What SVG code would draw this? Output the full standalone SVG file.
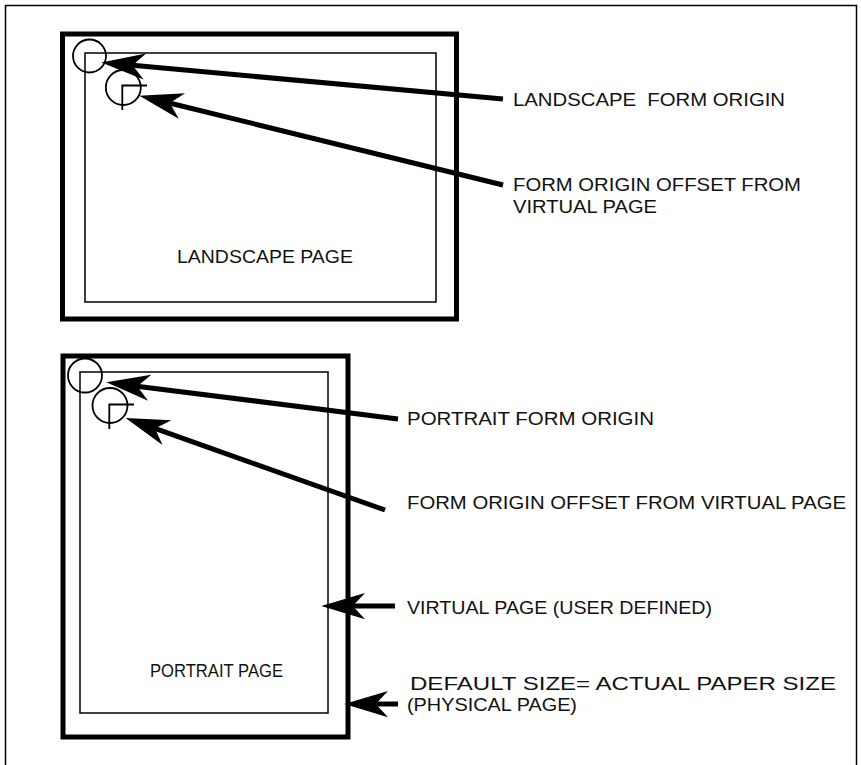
<svg xmlns="http://www.w3.org/2000/svg" width="861" height="765" viewBox="0 0 861 765">
<defs>
<style>
.frame{fill:none;stroke:#000;stroke-width:1.5}
.thick{fill:none;stroke:#000;stroke-width:5}
.thin{fill:none;stroke:#000;stroke-width:1.5}
.mark{fill:none;stroke:#000;stroke-width:1.8}
.shaft{fill:none;stroke:#000;stroke-width:5;marker-end:url(#head)}
text{font-family:"Liberation Sans",Arial,sans-serif;font-size:18px;fill:#111}
</style>
<marker id="head" markerUnits="userSpaceOnUse" orient="auto" refX="0" refY="0" markerWidth="50" markerHeight="30" viewBox="-14 -12 40 24" overflow="visible">
<path d="M23,0 L-12,-10.5 Q-5,-3 -2,0 Q-5,3 -12,10.5 Z" fill="#000"/>
</marker>
</defs>
<rect class="frame" x="5.5" y="5.5" width="851" height="800"/>
<g id="landscape-page">
<rect class="thick" x="62.5" y="34" width="394" height="285"/>
<rect class="thin" x="85" y="53" width="351" height="249"/>
<text x="177" y="263" textLength="176" lengthAdjust="spacingAndGlyphs">LANDSCAPE PAGE</text>
</g>
<g id="landscape-origin">
<circle class="mark" cx="89.5" cy="56" r="16.5"/>
</g>
<g id="landscape-offset">
<circle class="mark" cx="123.3" cy="87.5" r="17.5"/>
<path class="mark" d="M147,85.5 H122.3 V110"/>
</g>
<g id="portrait-page">
<rect class="thick" x="63" y="356" width="285" height="381"/>
<rect class="thin" x="80" y="372" width="248" height="341"/>
<text x="150" y="677" textLength="133" lengthAdjust="spacingAndGlyphs">PORTRAIT PAGE</text>
</g>
<g id="portrait-origin">
<circle class="mark" cx="85" cy="375.5" r="17"/>
</g>
<g id="portrait-offset">
<circle class="mark" cx="110" cy="405.5" r="17.5"/>
<path class="mark" d="M134,404.5 H109.3 V429"/>
</g>
<g id="label-landscape-origin">
<text x="513" y="106" textLength="272" lengthAdjust="spacingAndGlyphs">LANDSCAPE&#160; FORM ORIGIN</text>
</g>
<g id="label-landscape-offset">
<text x="513" y="191" textLength="288" lengthAdjust="spacingAndGlyphs">FORM ORIGIN OFFSET FROM</text>
<text x="513" y="213" textLength="144" lengthAdjust="spacingAndGlyphs">VIRTUAL PAGE</text>
</g>
<g id="label-portrait-origin">
<text x="407" y="425" textLength="247" lengthAdjust="spacingAndGlyphs">PORTRAIT FORM ORIGIN</text>
</g>
<g id="label-portrait-offset">
<text x="407" y="509" textLength="439" lengthAdjust="spacingAndGlyphs">FORM ORIGIN OFFSET FROM VIRTUAL PAGE</text>
</g>
<g id="label-virtual-page">
<text x="407" y="614" textLength="305" lengthAdjust="spacingAndGlyphs">VIRTUAL PAGE (USER DEFINED)</text>
</g>
<g id="label-default-size">
<text x="410" y="690" textLength="426" lengthAdjust="spacingAndGlyphs">DEFAULT SIZE= ACTUAL PAPER SIZE</text>
<text x="407" y="711" textLength="170" lengthAdjust="spacingAndGlyphs">(PHYSICAL PAGE)</text>
</g>
<g id="connectors">
<path class="shaft" d="M503,99 L129.9,65.1"/>
<path class="shaft" d="M503,185 L167.3,102.5"/>
<path class="shaft" d="M398,419 L134.8,385.9"/>
<path class="shaft" d="M385,510 L152.7,427.7"/>
<path class="shaft" d="M395,606 L350,606"/>
<path class="shaft" d="M398,704 L373,704"/>
</g>
</svg>
